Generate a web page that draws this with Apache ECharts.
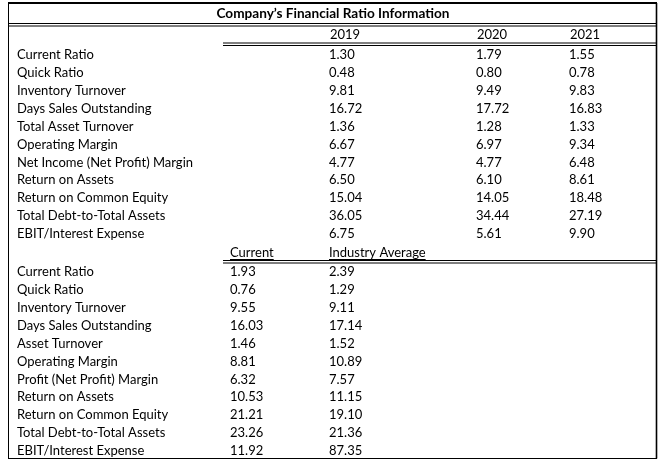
<!DOCTYPE html>
<html><head><meta charset="utf-8">
<script src="https://cdn.jsdelivr.net/npm/echarts@6/dist/echarts.min.js"></script>
<style>html,body{margin:0;padding:0;background:#fff}#c{width:663px;height:465px}</style>
</head><body><div id="c"></div>
<script>
// ---- data ----
const title = 'Company\u2019s Financial Ratio Information';
const years = ['2019', '2020', '2021'];
const ratioNames = ['Current Ratio','Quick Ratio','Inventory Turnover','Days Sales Outstanding','Total Asset Turnover','Operating Margin','Net Income (Net Profit) Margin','Return on Assets','Return on Common Equity','Total Debt-to-Total Assets','EBIT/Interest Expense'];
const v2019 = [1.30, 0.48, 9.81, 16.72, 1.36, 6.67, 4.77, 6.50, 15.04, 36.05, 6.75];
const v2020 = [1.79, 0.80, 9.49, 17.72, 1.28, 6.97, 4.77, 6.10, 14.05, 34.44, 5.61];
const v2021 = [1.55, 0.78, 9.83, 16.83, 1.33, 9.34, 6.48, 8.61, 18.48, 27.19, 9.90];
const compareHeaders = ['Current', 'Industry Average'];
const compareNames = ['Current Ratio','Quick Ratio','Inventory Turnover','Days Sales Outstanding','Asset Turnover','Operating Margin','Profit (Net Profit) Margin','Return on Assets','Return on Common Equity','Total Debt-to-Total Assets','EBIT/Interest Expense'];
const currentVals = [1.93, 0.76, 9.55, 16.03, 1.46, 8.81, 6.32, 10.53, 21.21, 23.26, 11.92];
const industryAvg = [2.39, 1.29, 9.11, 17.14, 1.52, 10.89, 7.57, 11.15, 19.10, 21.36, 87.35];

// ---- layout (not data) ----
const FONT = 'Lato';
const FS = 13;
const TFS = 13.6;
const colX = { label: 17, cur: 230, y2019: 329, y2020: 476, y2021: 569, title: 333 };
const rowY = { title: 14, yearHead: 35, sec1: 55, step: 17.9, cmpHead: 252.5, sec2: 272 };

// build cells: [x, y, text, style]
const cells = [];
cells.push([colX.title, rowY.title, title, 'title']);
const yearCols = [colX.y2019, colX.y2020, colX.y2021];
years.forEach((y, j) => cells.push([yearCols[j] + 1, rowY.yearHead, y, 'n']));
const yearVals = [v2019, v2020, v2021];
ratioNames.forEach((n, i) => {
  const yy = rowY.sec1 + rowY.step * i;
  cells.push([colX.label, yy, n, 'n']);
  yearVals.forEach((arr, j) => cells.push([yearCols[j], yy, arr[i].toFixed(2), 'n']));
});
cells.push([colX.cur, rowY.cmpHead, compareHeaders[0], 'u']);
cells.push([colX.y2019, rowY.cmpHead, compareHeaders[1], 'u']);
compareNames.forEach((n, i) => {
  const yy = rowY.sec2 + rowY.step * i;
  cells.push([colX.label, yy, n, 'n']);
  cells.push([colX.cur, yy, currentVals[i].toFixed(2), 'n']);
  cells.push([colX.y2019, yy, industryAvg[i].toFixed(2), 'n']);
});

const mctx = document.createElement('canvas').getContext('2d');
function tw(t, bold) { mctx.font = (bold ? 'bold ' : '') + FS + 'px ' + FONT; return mctx.measureText(t).width; }

const chart = echarts.init(document.getElementById('c'), null, { renderer: 'canvas' });

const L = 8, R = 656, T = 3, B = 458.5;
function hline(x1, x2, y, w) { return { type: 'line', shape: { x1: x1, y1: y, x2: x2, y2: y }, style: { stroke: '#000', lineWidth: w || 1 }, silent: true }; }
function vline(x, y1, y2, w) { return { type: 'line', shape: { x1: x, y1: y1, x2: x, y2: y2 }, style: { stroke: '#000', lineWidth: w || 1 }, silent: true }; }

chart.setOption({
  backgroundColor: '#fff',
  animation: false,
  grid: { left: 0, right: 0, top: 0, bottom: 0 },
  xAxis: { type: 'value', min: 0, max: 663, show: false },
  yAxis: { type: 'value', min: 0, max: 465, inverse: true, show: false },
  graphic: [
    hline(L, R + 1, T, 2.2),
    vline(L + 0.5, T, B),
    vline(R + 0.5, T, B, 1.6),
    hline(L, R + 1, B, 1.2),
    hline(L, R, 23.5), hline(L, R, 26),
    hline(223, R, 43), hline(223, R, 45.5),
    hline(223, R, 260.5), hline(223, R, 263)
  ],
  series: [{
    type: 'custom',
    coordinateSystem: 'cartesian2d',
    data: cells.map(c => [c[0], c[1]]),
    renderItem: function (params, api) {
      const c = cells[params.dataIndex];
      const p = api.coord([api.value(0), api.value(1)]);
      const bold = c[3] === 'title';
      const align = c[3] === 'title' ? 'center' : 'left';
      const children = [{
        type: 'text',
        style: { x: p[0], y: p[1], text: c[2], fill: '#000', font: (bold ? 'bold ' + TFS : FS) + 'px ' + FONT, align: align, verticalAlign: 'middle' }
      }];
      if (c[3] === 'u') {
        const w = tw(c[2], false);
        children.push({ type: 'line', shape: { x1: p[0], y1: Math.round(p[1] + 6) + 0.5, x2: p[0] + w, y2: Math.round(p[1] + 6) + 0.5 }, style: { stroke: '#000', lineWidth: 1 } });
      }
      return { type: 'group', children: children };
    }
  }]
});
</script></body></html>
